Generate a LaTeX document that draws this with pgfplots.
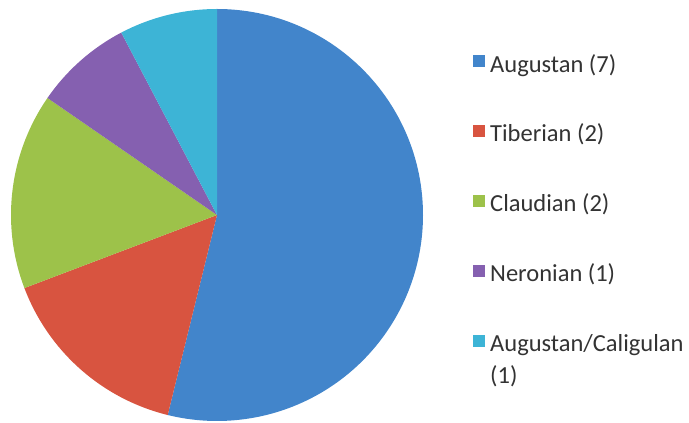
\documentclass[border=0pt]{standalone}
\usepackage{pgfplots}
\pgfplotsset{compat=1.18}
\usepackage{pgfplotstable}
\usepackage{fontspec}
\setmainfont{Carlito}

\definecolor{cAug}{HTML}{4285CB}
\definecolor{cTib}{HTML}{D85440}
\definecolor{cCla}{HTML}{9DC24A}
\definecolor{cNer}{HTML}{8560B0}
\definecolor{cCal}{HTML}{3DB4D6}
\definecolor{txt}{HTML}{333333}

% slice counts, clockwise from 12 o'clock
\pgfplotstableread{
label value
Augustan 7
Tiberian 2
Claudian 2
Neronian 1
AugCal 1
}\pietable

\begin{document}
\begin{tikzpicture}[x=1pt,y=1pt]
\path[use as bounding box] (0,0) rectangle (689,423);

% running angles from the table
\pgfmathsetmacro{\tot}{0}
\foreach \i in {0,...,4}{
  \pgfplotstablegetelem{\i}{value}\of\pietable
  \pgfmathsetmacro{\tot}{\tot+\pgfplotsretval}
  \xdef\tot{\tot}
}
\def\cum{0}
\foreach \i/\n in {0/A,1/B,2/C,3/D,4/E}{
  \pgfplotstablegetelem{\i}{value}\of\pietable
  \pgfmathsetmacro{\s}{90-360*\cum/\tot}
  \pgfmathsetmacro{\newcum}{\cum+\pgfplotsretval}
  \pgfmathsetmacro{\e}{90-360*\newcum/\tot}
  \expandafter\xdef\csname st\n\endcsname{\s}
  \expandafter\xdef\csname en\n\endcsname{\e}
  \xdef\cum{\newcum}
}

\begin{axis}[
  scale only axis, width=412pt, height=412pt,
  xmin=-1, xmax=1, ymin=-1, ymax=1,
  hide axis, clip=false,
  at={(217pt,208pt)}, anchor=center,
]
\fill[cAug] (axis cs:0,0) -- ++(\stA:206pt) arc[start angle=\stA, end angle=\enA, radius=206pt] -- cycle;
\fill[cTib] (axis cs:0,0) -- ++(\stB:206pt) arc[start angle=\stB, end angle=\enB, radius=206pt] -- cycle;
\fill[cCla] (axis cs:0,0) -- ++(\stC:206pt) arc[start angle=\stC, end angle=\enC, radius=206pt] -- cycle;
\fill[cNer] (axis cs:0,0) -- ++(\stD:206pt) arc[start angle=\stD, end angle=\enD, radius=206pt] -- cycle;
\fill[cCal] (axis cs:0,0) -- ++(\stE:206pt) arc[start angle=\stE, end angle=\enE, radius=206pt] -- cycle;
\end{axis}

% legend
\foreach \y/\c/\t in {72.5/cAug/{Augustan (7)}, 142/cTib/{Tiberian (2)}, 212/cCla/{Claudian (2)}, 282/cNer/{Neronian (1)}, 352/cCal/{Augustan/Caligulan}}{
  \fill[\c] (473,{423-\y+5}) rectangle (485,{423-\y+17});
  \node[anchor=base west, inner sep=0pt, text=txt, font=\fontsize{24.5}{29}\selectfont] at (490,{423-\y}) {\t};
}
\node[anchor=base west, inner sep=0pt, text=txt, font=\fontsize{24.5}{29}\selectfont] at (490,{423-384}) {(1)};
\end{tikzpicture}
\end{document}
